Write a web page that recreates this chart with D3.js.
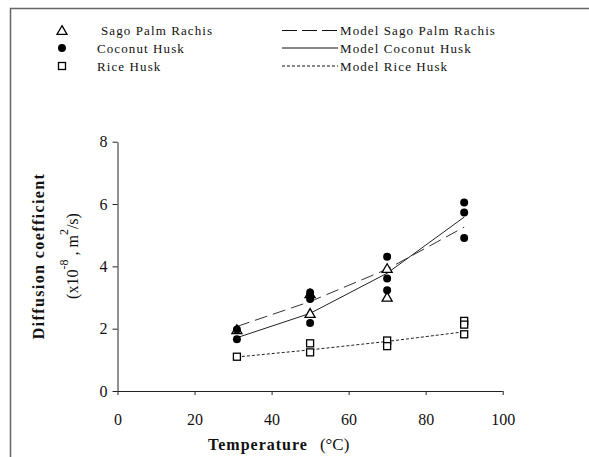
<!DOCTYPE html>
<html>
<head>
<meta charset="utf-8">
<script src="https://cdn.jsdelivr.net/npm/d3@7"></script>
<style>
  html, body { margin: 0; padding: 0; background: #fff; }
  svg text { font-family: "Times New Roman", "Liberation Serif", "DejaVu Serif", Times, serif; }
</style>
</head>
<body>
<svg id="chart" width="589" height="457"></svg>
<script>
// Measured diffusion coefficients (x10^-8 m^2/s) at each temperature (°C)
const sagoTemps   = [31, 50, 50, 70, 70];
const sagoValues  = [1.97, 3.12, 2.49, 3.93, 3.01];

const coconutTemps  = [31, 31, 50, 50, 50, 50, 70, 70, 70, 90, 90, 90];
const coconutValues = [1.97, 1.66, 3.16, 3.05, 2.95, 2.18, 4.31, 3.61, 3.23, 6.05, 5.73, 4.91];

const riceTemps  = [31, 50, 50, 70, 70, 90, 90, 90];
const riceValues = [1.10, 1.53, 1.24, 1.62, 1.44, 2.25, 2.13, 1.82];

// Model predictions
const modelTemps   = [31, 50, 70, 90];
const modelSago    = [2.07, 2.87, 3.91, 5.26];
const modelCoconut = [1.71, 2.49, 3.78, 5.58];
const modelRice    = [1.09, 1.32, 1.59, 1.90];

const xTicks = [0, 20, 40, 60, 80, 100];
const yTicks = [0, 2, 4, 6, 8];

const svg = d3.select("#chart");
svg.append("rect").attr("width", 589).attr("height", 457).attr("fill", "#fff");

// outer frame (left and top edges)
svg.append("path")
  .attr("d", "M10.5,457 V8.5 H589")
  .attr("fill", "none").attr("stroke", "#666").attr("stroke-width", 1.5);

const x = d3.scaleLinear().domain([0, 100]).range([117.5, 502.7]);
const y = d3.scaleLinear().domain([0, 8]).range([391, 141.7]);

// axes
const xAxis = svg.append("g").attr("transform", `translate(0,${y(0)})`)
  .call(d3.axisBottom(x).tickValues(xTicks).tickSize(4).tickPadding(19).tickSizeOuter(0));
const yAxis = svg.append("g").attr("transform", `translate(${x(0)},0)`)
  .call(d3.axisLeft(y).tickValues(yTicks).tickSize(5).tickPadding(5).tickSizeOuter(0));
[xAxis, yAxis].forEach(g => {
  g.attr("font-family", null);
  g.select(".domain").attr("stroke", "#222");
  g.selectAll(".tick line").attr("stroke", "#222");
  g.selectAll(".tick text").attr("fill", "#111").style("font-size", "16px");
});
xAxis.select(".domain").attr("d", `M${x(0)},0.5H${x(100)}`);

// axis titles
const xt = svg.append("text").attr("x", 208).attr("y", 450)
  .style("font-size", "16px").style("font-weight", "bold").attr("fill", "#111");
xt.append("tspan").text("Temperature").style("letter-spacing", "1px");
xt.append("tspan").attr("dx", 12).style("font-weight", "normal").style("font-size", "17px").text("(°C)");

const yt = svg.append("g").attr("transform", "translate(44,256) rotate(-90)");
yt.append("text").attr("text-anchor", "middle")
  .style("font-size", "16px").style("font-weight", "bold").style("letter-spacing", "1.4px")
  .attr("fill", "#111").text("Diffusion coefficient");
const yt2 = yt.append("text").attr("text-anchor", "middle").attr("y", 34)
  .style("font-size", "16px").attr("fill", "#111");
yt2.append("tspan").text("(x10");
yt2.append("tspan").attr("dy", -10).style("font-size", "12px").text("-8");
yt2.append("tspan").attr("dy", 10).text(" , m");
yt2.append("tspan").attr("dy", -10).style("font-size", "12px").text("2");
yt2.append("tspan").attr("dy", 10).text("/s)");

// marker helpers
const triSym = d3.symbol().type(d3.symbolTriangle).size(44);
const circSym = d3.symbol().type(d3.symbolCircle).size(50);
function drawTriangle(g, px, py) {
  g.append("path").attr("d", triSym()).attr("transform", `translate(${px},${py + 1})`)
    .attr("fill", "#fff").attr("stroke", "#000").attr("stroke-width", 1.3);
}
function drawCircle(g, px, py) {
  g.append("path").attr("d", circSym()).attr("transform", `translate(${px},${py})`)
    .attr("fill", "#000");
}
function drawSquare(g, px, py) {
  g.append("rect").attr("x", px - 3.5).attr("y", py - 3.5).attr("width", 7).attr("height", 7)
    .attr("fill", "#fff").attr("stroke", "#000").attr("stroke-width", 1.3);
}

// model lines
const line = d3.line().x(d => x(d[0])).y(d => y(d[1]));
const plot = svg.append("g");
plot.append("path").datum(d3.zip(modelTemps, modelSago)).attr("d", line)
  .attr("fill", "none").attr("stroke", "#333").attr("stroke-width", 1).attr("stroke-dasharray", "13,6");
plot.append("path").datum(d3.zip(modelTemps, modelCoconut)).attr("d", line)
  .attr("fill", "none").attr("stroke", "#222").attr("stroke-width", 1);
plot.append("path").datum(d3.zip(modelTemps, modelRice)).attr("d", line)
  .attr("fill", "none").attr("stroke", "#222").attr("stroke-width", 1).attr("stroke-dasharray", "3,2");

// observed points
sagoTemps.forEach((t, i) => drawTriangle(plot, x(t), y(sagoValues[i])));
coconutTemps.forEach((t, i) => drawCircle(plot, x(t), y(coconutValues[i])));
riceTemps.forEach((t, i) => drawSquare(plot, x(t), y(riceValues[i])));

// legend
const legendRows = [
  { label: "Sago Palm Rachis", model: "Model Sago Palm Rachis", mark: drawTriangle, dash: "15,5", tx: 101 },
  { label: "Coconut Husk", model: "Model Coconut Husk", mark: drawCircle, dash: null, tx: 97 },
  { label: "Rice Husk", model: "Model Rice Husk", mark: drawSquare, dash: "3,2", tx: 97 }
];
const rowY = [30.5, 48, 66];
const legend = svg.append("g");
legendRows.forEach((r, i) => {
  const yy = rowY[i];
  r.mark(legend, 62, yy);
  legend.append("text").attr("x", r.tx).attr("y", yy + 4.5)
    .style("font-size", "13px").style("letter-spacing", "1.1px").attr("fill", "#111").text(r.label);
  const ln = legend.append("line").attr("x1", 282).attr("x2", 338).attr("y1", yy).attr("y2", yy)
    .attr("stroke", "#111").attr("stroke-width", 1);
  if (r.dash) ln.attr("stroke-dasharray", r.dash);
  legend.append("text").attr("x", 340).attr("y", yy + 4.5)
    .style("font-size", "13px").style("letter-spacing", "1.1px").attr("fill", "#111").text(r.model);
});
</script>
</body>
</html>
